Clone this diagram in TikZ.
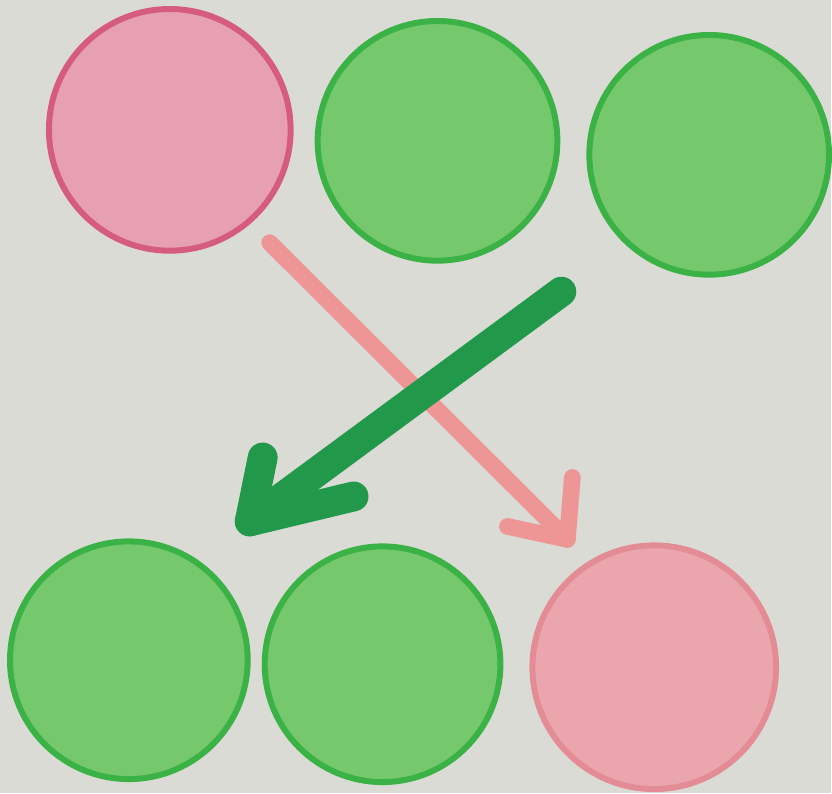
\documentclass[tikz,border=0pt]{standalone}
\usepackage{tikz}
\usetikzlibrary{positioning}
\definecolor{paper}{RGB}{219,219,214}
\definecolor{rosefill}{RGB}{231,160,178}
\definecolor{roseedge}{RGB}{214,92,126}
\definecolor{salmonfill}{RGB}{234,166,172}
\definecolor{salmonedge}{RGB}{228,140,150}
\definecolor{leaffill}{RGB}{118,200,108}
\definecolor{leafedge}{RGB}{58,178,70}
\definecolor{markgreen}{RGB}{34,152,74}
\definecolor{markpink}{RGB}{238,150,150}
\tikzset{ball/.style={circle, inner sep=0pt, outer sep=0pt, line width=3.4pt}}
\tikzset{redball/.style={ball, draw=roseedge, fill=rosefill}}
\tikzset{paleball/.style={ball, draw=salmonedge, fill=salmonfill}}
\tikzset{greenball/.style={ball, draw=leafedge, fill=leaffill}}
\tikzset{pinkstroke/.style={draw=markpink, line width=9.5pt, line cap=round, line join=round}}
\tikzset{greenstroke/.style={draw=markgreen, line width=17pt, line cap=round, line join=round}}

\begin{document}
\begin{tikzpicture}[x=0.02cm, y=-0.02cm]
\fill[paper] (0,0) rectangle (832,794);
% top row
\node[redball, minimum size=4.84cm] (topA) at (170,130) {};
\node[greenball, minimum size=4.8cm] (topB) at (438,141) {};
\node[greenball, minimum size=4.8cm] (topC) at (710,155) {};
% bottom row
\node[greenball, minimum size=4.76cm] (botA) at (129,661) {};
\node[greenball, minimum size=4.72cm] (botB) at (383,665) {};
\node[paleball, minimum size=4.88cm] (botC) at (655,668) {};
% pink arrow
\coordinate (pinkstart) at (270,243);
\coordinate (pinktip) at (568,540);
\coordinate (pinkarmA) at (508,527);
\coordinate (pinkarmB) at (573,478);
\draw[pinkstroke] (pinkstart) -- (pinktip);
\draw[pinkstroke] (pinkarmA) -- (pinktip) -- (pinkarmB);
% green arrow
\coordinate (greenstart) at (562,292);
\coordinate (greentip) at (250,522);
\coordinate (greenarmA) at (263,458);
\coordinate (greenarmB) at (354,497);
\draw[greenstroke] (greenstart) -- (greentip);
\draw[greenstroke] (greenarmA) -- (greentip) -- (greenarmB);
\end{tikzpicture}
\end{document}
